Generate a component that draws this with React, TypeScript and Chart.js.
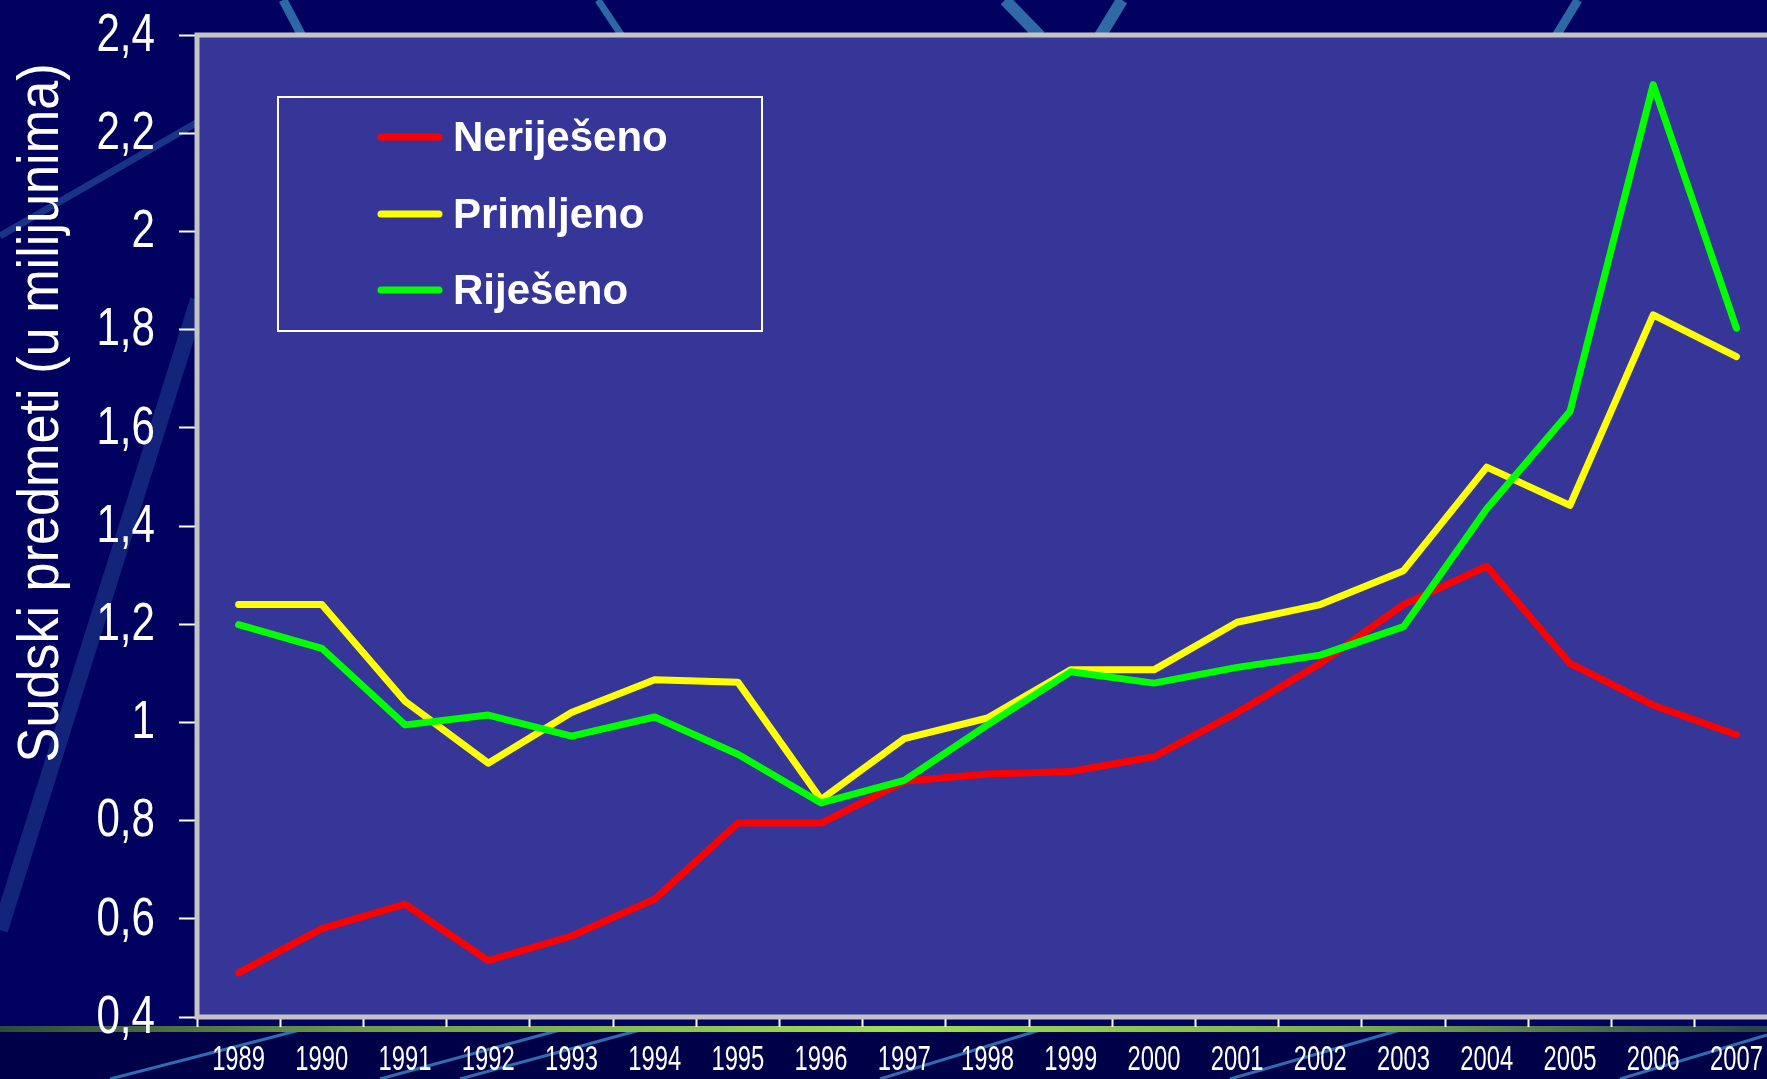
import React, { useEffect, useRef } from "react";
import { Chart, registerables } from "chart.js";

Chart.register(...registerables);

const years = ["1989", "1990", "1991", "1992", "1993", "1994", "1995", "1996", "1997", "1998", "1999", "2000", "2001", "2002", "2003", "2004", "2005", "2006", "2007"];
const nerijeseno = [0.49, 0.58, 0.63, 0.515, 0.565, 0.64, 0.795, 0.795, 0.88, 0.895, 0.9, 0.93, 1.02, 1.12, 1.24, 1.318, 1.12, 1.035, 0.975];
const primljeno = [1.24, 1.24, 1.043, 0.917, 1.02, 1.087, 1.082, 0.843, 0.967, 1.009, 1.107, 1.107, 1.204, 1.24, 1.309, 1.52, 1.442, 1.83, 1.745];
const rijeseno = [1.199, 1.151, 0.995, 1.015, 0.972, 1.011, 0.935, 0.836, 0.882, 0.995, 1.103, 1.08, 1.112, 1.137, 1.195, 1.435, 1.633, 2.299, 1.803];
const seriesLabels = ["Neriješeno", "Primljeno", "Riješeno"];
const seriesColors = ["#FF0000", "#FFFF00", "#00FF00"];
const yTitle = "Sudski predmeti (u milijunima)";
const yMin = 0.4;
const yMax = 2.4;
const yStep = 0.2;

const SANS = '"Liberation Sans", Arial, sans-serif';

const fmt = (v: number) => String(Number(Number(v).toFixed(1))).replace(".", ",");

function condensedText(ctx: any, text: string, x: number, y: number, sx: number, align: string) {
  ctx.save();
  ctx.translate(x, y);
  ctx.scale(sx, 1);
  ctx.textAlign = align;
  ctx.fillText(text, 0, 0);
  ctx.restore();
}

const backgroundPlugin = {
  id: "bgDecor",
  beforeDraw(chart: any) {
    const { ctx, width, height, chartArea } = chart;
    ctx.save();
    ctx.fillStyle = "#01015F";
    ctx.fillRect(0, 0, width, height);
    ctx.fillStyle = "#000048";
    ctx.fillRect(0, chartArea.bottom + 12, width, height - chartArea.bottom);
    const streaks: [number, number, number, number, number, string][] = [
      [0, 930, 198, 300, 16, "rgba(55,115,185,0.32)"],
      [0, 236, 198, 122, 7, "rgba(55,115,185,0.45)"],
      [283, 0, 302, 36, 9, "#2C68A6"],
      [598, 0, 622, 36, 7, "#2C68A6"],
      [1005, 0, 1040, 36, 12, "#2F6AA6"],
      [1122, 0, 1100, 36, 12, "#2F6AA6"],
      [1578, 0, 1556, 36, 9, "#2C68A6"],
      [110, 1079, 300, 1030, 3, "#2F6CB0"],
      [380, 1079, 560, 1030, 3, "#2F6CB0"],
      [460, 1079, 640, 1030, 3, "#2F6CB0"],
      [880, 1079, 1040, 1030, 3, "#2F6CB0"],
      [1230, 1079, 1400, 1030, 3, "#2F6CB0"],
      [1620, 1079, 1767, 1035, 3, "#2F6CB0"],
    ];
    ctx.lineCap = "butt";
    for (const [x1, y1, x2, y2, w, c] of streaks) {
      ctx.strokeStyle = c;
      ctx.lineWidth = w;
      ctx.beginPath();
      ctx.moveTo(x1, y1);
      ctx.lineTo(x2, y2);
      ctx.stroke();
    }
    const g = ctx.createLinearGradient(0, 0, width, 0);
    g.addColorStop(0, "#2E4A3A");
    g.addColorStop(0.2, "#6C9A4C");
    g.addColorStop(0.5, "#9BE055");
    g.addColorStop(0.75, "#7CB050");
    g.addColorStop(1, "#243A48");
    ctx.fillStyle = g;
    ctx.fillRect(0, chartArea.bottom + 9, width, 6);
    ctx.fillStyle = "#363699";
    ctx.fillRect(chartArea.left, chartArea.top, chartArea.right - chartArea.left, chartArea.bottom - chartArea.top);
    // y title
    ctx.fillStyle = "#FFFFFF";
    ctx.font = `58px ${SANS}`;
    ctx.textAlign = "center";
    ctx.textBaseline = "middle";
    ctx.translate(42, 413);
    ctx.rotate(-Math.PI / 2);
    ctx.scale(0.9, 1);
    ctx.fillText(yTitle, 0, 0);
    ctx.restore();
  },
  afterDatasetsDraw(chart: any) {
    const { ctx, chartArea } = chart;
    ctx.save();
    ctx.strokeStyle = "#C4C4C4";
    ctx.lineWidth = 5;
    ctx.strokeRect(chartArea.left, chartArea.top, chartArea.right - chartArea.left, chartArea.bottom - chartArea.top);
    // axis tick labels (condensed)
    ctx.fillStyle = "#FFFFFF";
    ctx.textBaseline = "middle";
    const ys = chart.scales.y;
    ctx.font = `54px ${SANS}`;
    ys.ticks.forEach((t: any, i: number) => {
      condensedText(ctx, fmt(t.value), chartArea.left - 42, ys.getPixelForTick(i) + 1, 0.78, "right");
    });
    const xs = chart.scales.x;
    ctx.font = `35px ${SANS}`;
    xs.ticks.forEach((t: any, i: number) => {
      condensedText(ctx, String(chart.data.labels[t.value]), xs.getPixelForTick(i), chartArea.bottom + 43, 0.68, "center");
    });
    // legend box
    const bx = 278, by = 97, bw = 484, bh = 234;
    ctx.strokeStyle = "#FFFFFF";
    ctx.lineWidth = 2;
    ctx.strokeRect(bx, by, bw, bh);
    const rows = [137, 214, 290];
    ctx.font = `bold 42px ${SANS}`;
    ctx.textBaseline = "middle";
    ctx.textAlign = "left";
    chart.data.datasets.forEach((ds: any, i: number) => {
      const y = rows[i];
      ctx.strokeStyle = ds.borderColor;
      ctx.lineWidth = 7;
      ctx.lineCap = "round";
      ctx.beginPath();
      ctx.moveTo(381, y);
      ctx.lineTo(439, y);
      ctx.stroke();
      ctx.fillStyle = "#FFFFFF";
      ctx.fillText(ds.label, 453, y + 2);
    });
    ctx.restore();
  },
};

export default function App() {
  const ref = useRef<HTMLCanvasElement | null>(null);
  useEffect(() => {
    if (!ref.current) return;
    const series = [nerijeseno, primljeno, rijeseno];
    const chart = new Chart(ref.current, {
      type: "line",
      data: {
        labels: years,
        datasets: series.map((d, i) => ({
          label: seriesLabels[i],
          data: d,
          borderColor: seriesColors[i],
          backgroundColor: seriesColors[i],
          borderWidth: 7,
          pointRadius: 0,
          tension: 0,
          borderCapStyle: "round" as const,
          borderJoinStyle: "round" as const,
          order: 3 - i,
        })),
      },
      options: {
        responsive: false,
        animation: false,
        layout: { padding: { top: 35, right: 12, left: 0, bottom: 0 } },
        plugins: { legend: { display: false }, tooltip: { enabled: false } },
        scales: {
          x: {
            type: "category",
            offset: true,
            border: { display: false },
            grid: { display: true, offset: true, drawOnChartArea: false, drawTicks: true, tickLength: 10, tickColor: "#FFFFFF", tickWidth: 2 },
            ticks: { display: false, autoSkip: false, maxRotation: 0 },
            afterFit: (s: any) => { s.height = 62; },
          },
          y: {
            min: yMin,
            max: yMax,
            border: { display: false },
            grid: { display: true, drawOnChartArea: false, drawTicks: true, tickLength: 18, tickColor: "#FFFFFF", tickWidth: 2 },
            ticks: { display: false, stepSize: yStep, callback: (v: any) => fmt(v) },
            afterFit: (s: any) => { s.width = 197; },
          },
        },
      },
      plugins: [backgroundPlugin],
    });
    return () => chart.destroy();
  }, []);
  return (
    <div style={{ position: "fixed", left: 0, top: 0, width: 1767, height: 1079, overflow: "hidden", background: "#01015F" }}>
      <canvas ref={ref} width={1790} height={1079} style={{ width: 1790, height: 1079, display: "block" }} />
    </div>
  );
}
